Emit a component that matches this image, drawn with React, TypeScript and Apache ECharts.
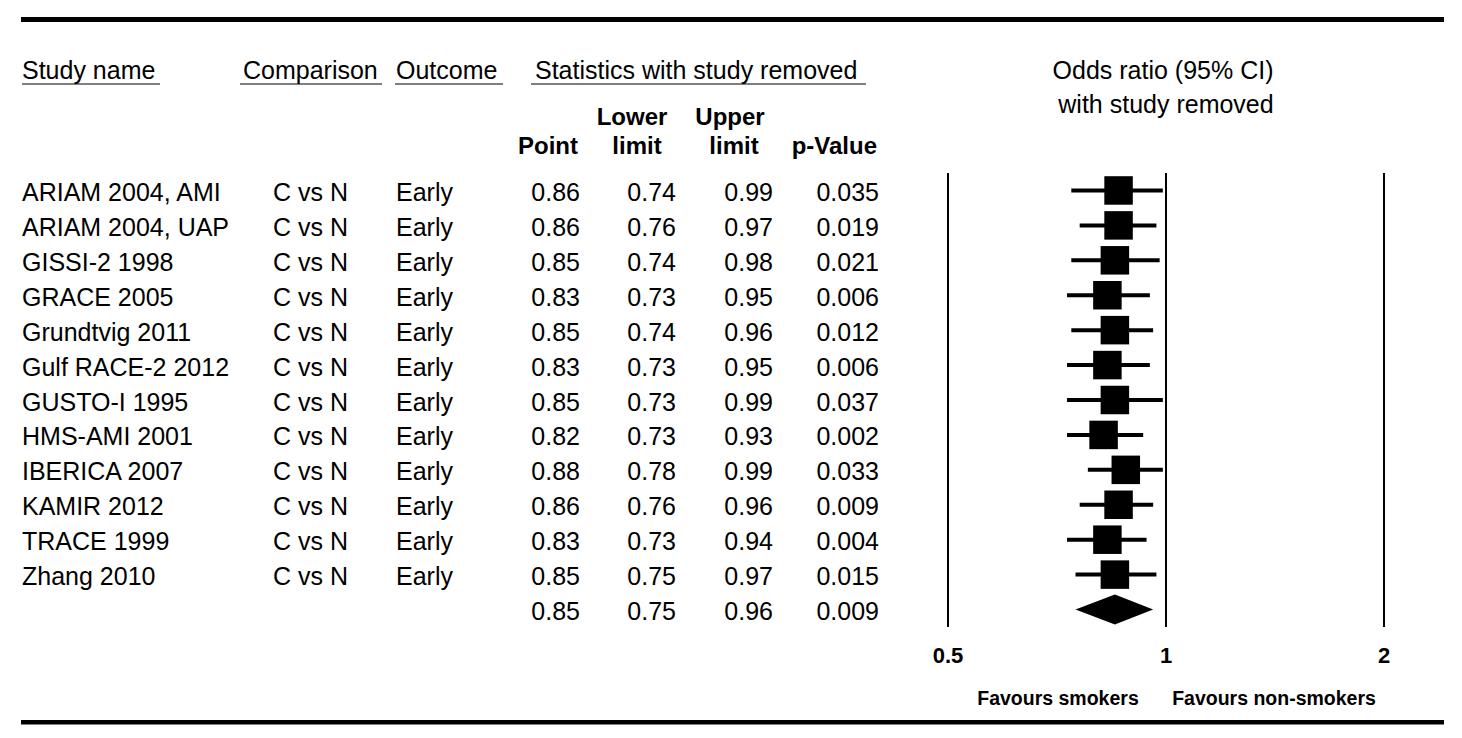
import React, { useEffect, useRef } from "react";
import * as echarts from "echarts";

const studies = [
  "ARIAM 2004, AMI",
  "ARIAM 2004, UAP",
  "GISSI-2 1998",
  "GRACE 2005",
  "Grundtvig 2011",
  "Gulf RACE-2 2012",
  "GUSTO-I 1995",
  "HMS-AMI 2001",
  "IBERICA 2007",
  "KAMIR 2012",
  "TRACE 1999",
  "Zhang 2010",
];
const comparison = studies.map(() => "C vs N");
const outcome = studies.map(() => "Early");
const pointEst = [0.86, 0.86, 0.85, 0.83, 0.85, 0.83, 0.85, 0.82, 0.88, 0.86, 0.83, 0.85];
const lowerLimit = [0.74, 0.76, 0.74, 0.73, 0.74, 0.73, 0.73, 0.73, 0.78, 0.76, 0.73, 0.75];
const upperLimit = [0.99, 0.97, 0.98, 0.95, 0.96, 0.95, 0.99, 0.93, 0.99, 0.96, 0.94, 0.97];
const pValues = ["0.035", "0.019", "0.021", "0.006", "0.012", "0.006", "0.037", "0.002", "0.033", "0.009", "0.004", "0.015"];
const overall = { point: 0.85, lower: 0.75, upper: 0.96, p: "0.009" };
const xTicks = [0.5, 1, 2];

const FONT = '"Liberation Sans", Arial, Helvetica, sans-serif';

export default function App() {
  const ref = useRef<HTMLDivElement>(null);

  useEffect(() => {
    if (!ref.current) return;
    const chart = echarts.init(ref.current, null, { renderer: "svg" });
    const nRows = studies.length + 1;
    const cats = Array.from({ length: nRows }, (_, i) => String(i));

    const txt = (x: number, y: number, text: string, align: string, size = 25, weight = "normal") => ({
      type: "text",
      x,
      y,
      style: {
        text,
        fill: "#000",
        font: `${weight} ${size}px ${FONT}`,
        align,
        verticalAlign: "middle",
        textAlign: align,
        textVerticalAlign: "middle",
      },
    });

    const uline = (x1: number, x2: number, y: number) => ({
      type: "line",
      shape: { x1, y1: y, x2, y2: y },
      style: { stroke: "#000", lineWidth: 1.2 },
    });

    const tableData = Array.from({ length: nRows }, (_, i) => [1, i]);
    const studyData = studies.map((_, i) => [pointEst[i], lowerLimit[i], upperLimit[i], i]);

    const option: any = {
      animation: false,
      backgroundColor: "#fff",
      grid: { left: 948, right: 78, top: 173, height: 454 },
      xAxis: {
        type: "log",
        logBase: 2,
        min: xTicks[0],
        max: xTicks[xTicks.length - 1],
        axisLine: { show: false },
        axisTick: { show: false },
        splitLine: { show: true, lineStyle: { color: "#000", width: 2 } },
        axisLabel: {
          show: true,
          margin: 17,
          color: "#000",
          fontSize: 22,
          fontWeight: "bold",
          fontFamily: FONT,
          formatter: (v: number) => String(Math.round(v * 10) / 10),
        },
      },
      yAxis: {
        type: "category",
        data: cats,
        inverse: true,
        show: false,
        boundaryGap: true,
      },
      graphic: [
        { type: "rect", shape: { x: 21, y: 17, width: 1423, height: 5 }, style: { fill: "#000" } },
        { type: "rect", shape: { x: 21, y: 720, width: 1423, height: 4.5 }, style: { fill: "#000" } },
        txt(22, 70, "Study name", "left"),
        uline(22, 160, 84),
        txt(243, 70, "Comparison", "left"),
        uline(240, 382, 84),
        txt(396, 70, "Outcome", "left"),
        uline(395, 503, 84),
        txt(535, 70, "Statistics with study removed", "left"),
        uline(531, 866, 84),
        txt(1163, 70, "Odds ratio (95% CI)", "center"),
        txt(1166, 104, "with study removed", "center"),
        txt(632, 116, "Lower", "center", 24, "bold"),
        txt(730, 116, "Upper", "center", 24, "bold"),
        txt(578, 145, "Point", "right", 24, "bold"),
        txt(637, 145, "limit", "center", 24, "bold"),
        txt(734, 145, "limit", "center", 24, "bold"),
        txt(877, 145, "p-Value", "right", 24, "bold"),
        txt(1058, 698, "Favours smokers", "center", 19.5, "bold"),
        txt(1274, 698, "Favours non-smokers", "center", 19.5, "bold"),
      ],
      series: [
        {
          type: "custom",
          name: "table",
          clip: false,
          silent: true,
          encode: { x: 0, y: 1 },
          data: tableData,
          renderItem: (params: any, api: any) => {
            const i = params.dataIndex;
            const y = api.coord([1, i])[1] + 1.5;
            const isOverall = i === studies.length;
            const children: any[] = [];
            if (!isOverall) {
              children.push(txt(22, y, studies[i], "left"));
              children.push(txt(273, y, comparison[i], "left"));
              children.push(txt(396, y, outcome[i], "left"));
            }
            const p = isOverall ? overall.point : pointEst[i];
            const lo = isOverall ? overall.lower : lowerLimit[i];
            const hi = isOverall ? overall.upper : upperLimit[i];
            const pv = isOverall ? overall.p : pValues[i];
            children.push(txt(580, y, p.toFixed(2), "right"));
            children.push(txt(676, y, lo.toFixed(2), "right"));
            children.push(txt(773, y, hi.toFixed(2), "right"));
            children.push(txt(879, y, pv, "right"));
            return { type: "group", children };
          },
        },
        {
          type: "custom",
          name: "studies",
          clip: false,
          silent: true,
          encode: { x: 0, y: 3 },
          data: studyData,
          renderItem: (params: any, api: any) => {
            const row = api.value(3);
            const p = api.coord([api.value(0), row]);
            const lo = api.coord([api.value(1), row]);
            const hi = api.coord([api.value(2), row]);
            const s = 28.5;
            return {
              type: "group",
              children: [
                {
                  type: "line",
                  shape: { x1: lo[0], y1: lo[1], x2: hi[0], y2: hi[1] },
                  style: { stroke: "#000", lineWidth: 4 },
                },
                {
                  type: "rect",
                  shape: { x: p[0] - s / 2, y: p[1] - s / 2, width: s, height: s },
                  style: { fill: "#000" },
                },
              ],
            };
          },
        },
        {
          type: "custom",
          name: "overall",
          clip: false,
          silent: true,
          encode: { x: 0, y: 3 },
          data: [[overall.point, overall.lower, overall.upper, studies.length]],
          renderItem: (params: any, api: any) => {
            const row = api.value(3);
            const p = api.coord([api.value(0), row]);
            const lo = api.coord([api.value(1), row]);
            const hi = api.coord([api.value(2), row]);
            const h = 15;
            return {
              type: "polygon",
              shape: {
                points: [
                  [lo[0], lo[1]],
                  [p[0], p[1] - h],
                  [hi[0], hi[1]],
                  [p[0], p[1] + h],
                ],
              },
              style: { fill: "#000" },
            };
          },
        },
      ],
    };

    chart.setOption(option);
    return () => chart.dispose();
  }, []);

  return (
    <div
      ref={ref}
      style={{ position: "absolute", left: 0, top: 0, width: 1462, height: 738, background: "#fff" }}
    />
  );
}
